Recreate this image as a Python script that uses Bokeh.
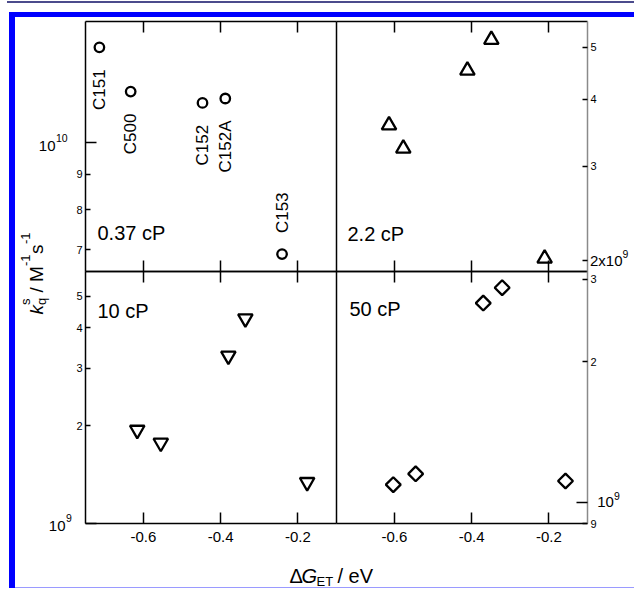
import math
from bokeh.plotting import figure
from bokeh.layouts import column, row
from bokeh.models import (Range1d, LinearAxis, LogAxis, FixedTicker, Label, LabelSet,
                          ColumnDataSource, Spacer, Div, LogScale)
from bokeh.core.properties import value
from bokeh.embed import file_html
from bokeh.resources import INLINE

FONT = "Liberation Sans"
BLUE = "#0000ff"

# ---------------- data ----------------
dyes = ["C151", "C500", "C152", "C152A", "C153"]
label_side = ["below", "below", "below", "below", "above"]

dG_037 = [-0.714, -0.633, -0.447, -0.388, -0.241]
kq_037 = [1.376e10, 1.187e10, 1.143e10, 1.160e10, 6.90e9]

dG_22 = [-0.614, -0.577, -0.411, -0.349, -0.211]
kq_22 = [3.58e9, 3.24e9, 4.53e9, 5.17e9, 2.02e9]

dG_10 = [-0.616, -0.555, -0.380, -0.336, -0.176]
kq_10 = [1.94e9, 1.77e9, 3.28e9, 4.27e9, 1.34e9]

dG_50 = [-0.603, -0.545, -0.370, -0.321, -0.157]
kq_50 = [1.09e9, 1.15e9, 2.67e9, 2.88e9, 1.11e9]

x_lim = (-0.75, -0.10)
x_ticks = [-0.6, -0.4, -0.2]
x_ticklab = ["-0.6", "-0.4", "-0.2"]

ylim_037 = (6.51e9, 1.50e10)
ylim_22 = (1.91e9, 5.59e9)
ylim_10 = (1.0e9, 5.96e9)
ylim_50 = (9.0e8, 3.12e9)

ticks_037, ticklab_037 = [7e9, 8e9, 9e9], ["7", "8", "9"]
ticks_22, ticklab_22 = [2e9, 3e9, 4e9, 5e9], ["", "3", "4", "5"]
ticks_10, ticklab_10 = [2e9, 3e9, 4e9, 5e9], ["2", "3", "4", "5"]
ticks_50, ticklab_50 = [9e8, 2e9, 3e9], ["9", "2", "3"]

# ---------------- geometry (canvas pixels) ----------------
W, H = 619, 570
COL_L, COL_R = (70, 321), (321, 572)
ROW_T, ROW_B = (4, 254), (254, 506)


def x_range_for(col):
    a, b = col
    k = (x_lim[1] - x_lim[0]) / (b - a)
    return Range1d(x_lim[0] - a * k, x_lim[1] + (W - b) * k)


def y_range_for(rw, ylim):
    t, u = rw
    lo, hi = math.log10(ylim[0]), math.log10(ylim[1])
    k = (hi - lo) / (u - t)
    return Range1d(10 ** (lo - (H - u) * k), 10 ** (hi + t * k))


p = figure(width=W, height=H, x_range=Range1d(0, 1), y_range=Range1d(0, 1),
           x_axis_location=None, y_axis_location=None, tools="",
           toolbar_location=None, output_backend="svg",
           min_border_left=0, min_border_right=0, min_border_top=0, min_border_bottom=0,
           background_fill_color="white", border_fill_color="white")
p.outline_line_color = None
p.xgrid.grid_line_color = None
p.ygrid.grid_line_color = None

p.extra_x_ranges = {"xL": x_range_for(COL_L), "xR": x_range_for(COL_R)}
p.extra_y_ranges = {"y037": y_range_for(ROW_T, ylim_037), "y22": y_range_for(ROW_T, ylim_22),
                    "y10": y_range_for(ROW_B, ylim_10), "y50": y_range_for(ROW_B, ylim_50)}
p.extra_y_scales = {k: LogScale() for k in ("y037", "y22", "y10", "y50")}


def axis(cls, place, xn, yn, loc, bounds, ticks, labels=None, minor=None,
         tick_in=0, minor_in=0, color="black", size="11px", standoff=3):
    ax = cls(x_range_name=xn, y_range_name=yn, fixed_location=loc, bounds=bounds,
             ticker=FixedTicker(ticks=ticks, minor_ticks=minor or []),
             major_tick_in=tick_in, major_tick_out=0,
             minor_tick_in=minor_in, minor_tick_out=0,
             major_tick_line_width=1.5, minor_tick_line_width=1.5,
             major_tick_line_color="black", minor_tick_line_color="black",
             axis_line_color=color, axis_line_width=1.5,
             major_label_standoff=standoff)
    if labels is None:
        ax.major_label_text_color = None
    else:
        ax.major_label_overrides = dict(zip(ticks, labels))
        ax.major_label_text_font = FONT
        ax.major_label_text_font_size = size
        ax.major_label_text_color = "black"
    p.add_layout(ax, place)


panels = [("xL", "y037", ylim_037, True, True), ("xR", "y22", ylim_22, False, True),
          ("xL", "y10", ylim_10, True, False), ("xR", "y50", ylim_50, False, False)]
for xn, yn, ylim, is_left, is_top in panels:
    axis(LinearAxis, "above", xn, yn, ylim[1], x_lim, x_ticks, tick_in=11)
    if is_top:
        axis(LinearAxis, "below", xn, yn, ylim[0], x_lim, x_ticks, tick_in=11)
    else:
        axis(LinearAxis, "below", xn, yn, ylim[0], x_lim, x_ticks, labels=x_ticklab,
             tick_in=11, size="15px", standoff=8)
    if is_left:
        axis(LogAxis, "right", xn, yn, x_lim[1], ylim, [])

yaxis_spec = [("xL", "y037", ylim_037, ticks_037, ticklab_037, [1e10], "left", "black"),
              ("xR", "y22", ylim_22, ticks_22, ticklab_22, [], "right", "#8a8a8a"),
              ("xL", "y10", ylim_10, ticks_10, ticklab_10, [1e9], "left", "black"),
              ("xR", "y50", ylim_50, ticks_50, ticklab_50, [1e9], "right", "#8a8a8a")]
for xn, yn, ylim, tk, tl_, mn, place, col in yaxis_spec:
    loc = x_lim[0] if place == "left" else x_lim[1]
    axis(LogAxis, place, xn, yn, loc, ylim, tk, labels=tl_, minor=mn,
         tick_in=5, minor_in=11, color=col)

mk = dict(fill_color=None, line_color="black", line_width=2.3)
p.scatter(x=dG_037, y=kq_037, marker="circle", size=9.5, x_range_name="xL", y_range_name="y037", **mk)
p.scatter(x=dG_22, y=kq_22, marker="triangle", size=14.5, x_range_name="xR", y_range_name="y22", **mk)
p.scatter(x=dG_10, y=kq_10, marker="inverted_triangle", size=14.5, x_range_name="xL", y_range_name="y10", **mk)
p.scatter(x=dG_50, y=kq_50, marker="square", angle=math.pi / 4, size=10.5,
          x_range_name="xR", y_range_name="y50", **mk)

# dye names next to the 0.37 cP points
for side, align, dy in (("below", "right", -22), ("above", "left", 21)):
    idx = [i for i, s in enumerate(label_side) if s == side]
    src = ColumnDataSource(dict(x=[dG_037[i] for i in idx],
                                y=[kq_037[i] for i in idx],
                                name=[dyes[i] for i in idx]))
    p.add_layout(LabelSet(x="x", y="y", text="name", source=src,
                          x_range_name="xL", y_range_name="y037",
                          angle=math.pi / 2, text_align=align,
                          text_baseline="middle", y_offset=dy,
                          text_font=value(FONT), text_font_size="17px",
                          text_color="black"))


def lab(text, xn, yn, x, y, dx, dy, size, align="left", angle=0.0, style="normal"):
    p.add_layout(Label(x=x, y=y, x_range_name=xn, y_range_name=yn, text=text,
                       x_offset=dx, y_offset=dy, text_font=FONT,
                       text_font_size=f"{size}px", text_font_style=style,
                       text_align=align, text_baseline="middle",
                       angle=angle, text_color="black"))


# viscosity labels
lab("0.37 cP", "xL", "y037", x_lim[0], ylim_037[0], 12, 38.5, 20)
lab("2.2 cP", "xR", "y22", x_lim[0], ylim_22[0], 11, 37.5, 20)
lab("10 cP", "xL", "y10", x_lim[0], ylim_10[1], 12, -39, 20)
lab("50 cP", "xR", "y50", x_lim[0], ylim_50[1], 13, -37.5, 20)

# decade tick labels
lab("10", "xL", "y037", x_lim[0], 1e10, -30, -3, 15, align="right")
lab("10", "xL", "y037", x_lim[0], 1e10, -29.5, 5, 10.5)
lab("10", "xL", "y10", x_lim[0], 1e9, -20, -2, 15, align="right")
lab("9", "xL", "y10", x_lim[0], 1e9, -19.5, 6, 10.5)
lab("10", "xR", "y50", x_lim[1], 1e9, 9.7, 0, 15)
lab("9", "xR", "y50", x_lim[1], 1e9, 26.5, 6.5, 10.5)
lab("2x10", "xR", "y22", x_lim[1], 2e9, 2.5, 0, 15)
lab("9", "xR", "y22", x_lim[1], 2e9, 35, 7, 10.5)

# y-axis title (rotated)
R = math.pi / 2
yt = ("xL", "y10", x_lim[0], ylim_10[1])
lab("k", *yt, -49, -43, 19, angle=R, style="italic")
lab("q", *yt, -44, -33.5, 13, angle=R)
lab("s", *yt, -60, -33.5, 13, angle=R)
lab("/", *yt, -49, -21, 19, angle=R)
lab("M", *yt, -49, -10.4, 19, angle=R)
lab("-1", *yt, -60, 5.4, 13, angle=R)
lab("s", *yt, -49, 17.5, 19, angle=R)
lab("-1", *yt, -60, 27.5, 13, angle=R)

# x-axis title
xt = ("xL", "y10", x_lim[0], ylim_10[0])
lab("\u0394", *xt, 204, -52, 20)
lab("G", *xt, 216, -52, 20, style="italic")
lab("ET", *xt, 231, -57.5, 13)
lab("/ eV", *xt, 252, -52, 20)

# page frame (journal-style border lines)
layout = column(
    Spacer(width=1, height=1, margin=0),
    row(Spacer(width=7, height=2, margin=0),
        Div(text="", width=627, height=2, margin=0, styles={"background-color": "#4b4b8c"})),
    Spacer(width=1, height=9, margin=0),
    row(Spacer(width=9, height=5, margin=0),
        Div(text="", width=625, height=5, margin=0, styles={"background-color": BLUE})),
    row(Spacer(width=9, height=H, margin=0),
        Div(text="", width=6, height=H, margin=0, styles={"background-color": BLUE}),
        p),
    row(Spacer(width=9, height=1, margin=0),
        Div(text="", width=6, height=1, margin=0, styles={"background-color": BLUE}),
        Div(text="", width=619, height=1, margin=0, styles={"background-color": "#9a9aff"})),
)

open("out.html", "w").write(file_html(layout, INLINE))
